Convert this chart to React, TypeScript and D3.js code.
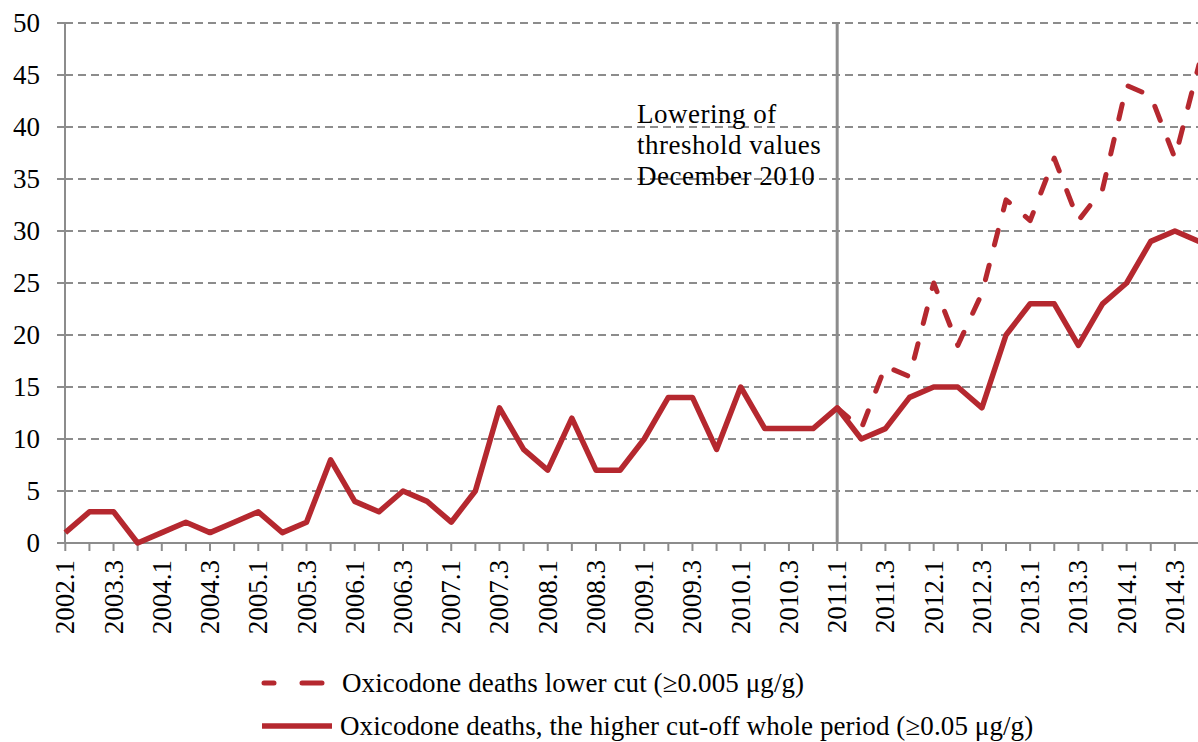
import React, { useEffect, useRef } from 'react';
import * as d3 from 'd3';

// quarter labels as printed on the axis (only every other one is shown)
const quarters = [
  '2002.1', '2003.2', '2003.3', '2003.4',
  '2004.1', '2004.2', '2004.3', '2004.4',
  '2005.1', '2005.2', '2005.3', '2005.4',
  '2006.1', '2006.2', '2006.3', '2006.4',
  '2007.1', '2007.2', '2007.3', '2007.4',
  '2008.1', '2008.2', '2008.3', '2008.4',
  '2009.1', '2009.2', '2009.3', '2009.4',
  '2010.1', '2010.2', '2010.3', '2010.4',
  '2011.1', '2011.2', '2011.3', '2011.4',
  '2012.1', '2012.2', '2012.3', '2012.4',
  '2013.1', '2013.2', '2013.3', '2013.4',
  '2014.1', '2014.2', '2014.3', '2014.4',
];

const higherCut = [
  1, 3, 3, 0, 1, 2, 1, 2, 3, 1,
  2, 8, 4, 3, 5, 4, 2, 5, 13, 9,
  7, 12, 7, 7, 10, 14, 14, 9, 15, 11,
  11, 11, 13, 10, 11, 14, 15, 15, 13, 20,
  23, 23, 19, 23, 25, 29, 30, 29,
];

// lower cut only exists from 2011.1 on
const lowerCut: (number | null)[] = [
  null, null, null, null, null, null, null, null, null, null,
  null, null, null, null, null, null, null, null, null, null,
  null, null, null, null, null, null, null, null, null, null,
  null, null, 13, 11, 17, 16, 25, 19, 24, 33,
  31, 37, 31, 34, 44, 43, 37, 46,
];

const yTicks = [0, 5, 10, 15, 20, 25, 30, 35, 40, 45, 50];
const annotation = ['Lowering of', 'threshold values', 'December 2010'];
const legendLabels = [
  'Oxicodone deaths lower cut (≥0.005 μg/g)',
  'Oxicodone deaths, the higher cut-off whole period (≥0.05 μg/g)',
];

const W = 1198;
const H = 742;
const RED = '#b5282f';
const GREY = '#8c8c8c';
const FONT = '"Liberation Serif", serif';
const DASH = '15 21';

const App = () => {
  const svgRef = useRef<SVGSVGElement>(null);

  useEffect(() => {
    const svg = d3.select(svgRef.current);
    svg.selectAll('*').remove();

    const x = d3.scalePoint<string>().domain(quarters).range([65.3, 1199]);
    const y = d3.scaleLinear().domain([0, 50]).range([543, 23]);

    // gridlines
    svg.append('g')
      .selectAll('line')
      .data(yTicks.filter(t => t > 0))
      .enter()
      .append('line')
      .attr('x1', 65).attr('x2', W)
      .attr('y1', d => y(d)).attr('y2', d => y(d))
      .attr('stroke', GREY)
      .attr('stroke-width', 2)
      .attr('stroke-dasharray', '8 5');

    // y ticks + labels
    svg.append('g')
      .selectAll('line')
      .data(yTicks)
      .enter()
      .append('line')
      .attr('x1', 57).attr('x2', 65)
      .attr('y1', d => y(d)).attr('y2', d => y(d))
      .attr('stroke', GREY)
      .attr('stroke-width', 2);

    svg.append('g')
      .selectAll('text')
      .data(yTicks)
      .enter()
      .append('text')
      .attr('x', 40)
      .attr('y', d => y(d))
      .attr('text-anchor', 'end')
      .attr('dominant-baseline', 'central')
      .attr('font-family', FONT)
      .attr('font-size', 27)
      .text(d => d);

    // axes
    svg.append('line')
      .attr('x1', 65).attr('x2', 65).attr('y1', y(50)).attr('y2', y(0))
      .attr('stroke', GREY).attr('stroke-width', 2);
    svg.append('line')
      .attr('x1', 57).attr('x2', W).attr('y1', y(0)).attr('y2', y(0))
      .attr('stroke', GREY).attr('stroke-width', 2);

    // x ticks + labels
    svg.append('g')
      .selectAll('line')
      .data(quarters)
      .enter()
      .append('line')
      .attr('x1', d => x(d)!).attr('x2', d => x(d)!)
      .attr('y1', y(0)).attr('y2', y(0) + 8)
      .attr('stroke', GREY)
      .attr('stroke-width', 2);

    svg.append('g')
      .selectAll('text')
      .data(quarters.filter((q, i) => i % 2 === 0))
      .enter()
      .append('text')
      .attr('transform', d => `translate(${x(d)},560) rotate(-90)`)
      .attr('text-anchor', 'end')
      .attr('dominant-baseline', 'central')
      .attr('font-family', FONT)
      .attr('font-size', 27)
      .text(d => d);

    // threshold change marker
    const xm = x('2011.1')!;
    svg.append('line')
      .attr('x1', xm).attr('x2', xm).attr('y1', y(50)).attr('y2', y(0))
      .attr('stroke', GREY).attr('stroke-width', 3);

    svg.append('text')
      .attr('font-family', FONT)
      .attr('font-size', 27)
      .attr('letter-spacing', 0.5)
      .selectAll('tspan')
      .data(annotation)
      .enter()
      .append('tspan')
      .attr('x', 637)
      .attr('y', (d, i) => 123 + i * 31)
      .text(d => d);

    // series
    const line = d3.line<number | null>()
      .defined(d => d !== null)
      .x((d, i) => x(quarters[i])!)
      .y(d => y(d as number));

    svg.append('path')
      .attr('d', line(lowerCut))
      .attr('fill', 'none')
      .attr('stroke', RED)
      .attr('stroke-width', 5)
      .attr('stroke-linecap', 'round')
      .attr('stroke-linejoin', 'round')
      .attr('stroke-dasharray', DASH);

    svg.append('path')
      .attr('d', line(higherCut))
      .attr('fill', 'none')
      .attr('stroke', RED)
      .attr('stroke-width', 5.5)
      .attr('stroke-linejoin', 'round');

    // legend
    const rows = [683, 726];
    const lg = svg.append('g');
    lg.append('line')
      .attr('x1', 264).attr('x2', 322).attr('y1', rows[0]).attr('y2', rows[0])
      .attr('stroke', RED).attr('stroke-width', 5)
      .attr('stroke-linecap', 'round')
      .attr('stroke-dasharray', '10 28 20 100');
    lg.append('line')
      .attr('x1', 262).attr('x2', 332).attr('y1', rows[1]).attr('y2', rows[1])
      .attr('stroke', RED).attr('stroke-width', 5.5);
    lg.selectAll('text')
      .data(legendLabels)
      .enter()
      .append('text')
      .attr('x', (d, i) => (i === 0 ? 342 : 340))
      .attr('y', (d, i) => rows[i])
      .attr('dominant-baseline', 'central')
      .attr('font-family', FONT)
      .attr('font-size', 27)
      .attr('letter-spacing', 0.1)
      .text(d => d);
  }, []);

  return (
    <svg
      ref={svgRef}
      width={W}
      height={H}
      style={{ position: 'fixed', left: 0, top: 0, background: '#fff' }}
    />
  );
};

export default App;
